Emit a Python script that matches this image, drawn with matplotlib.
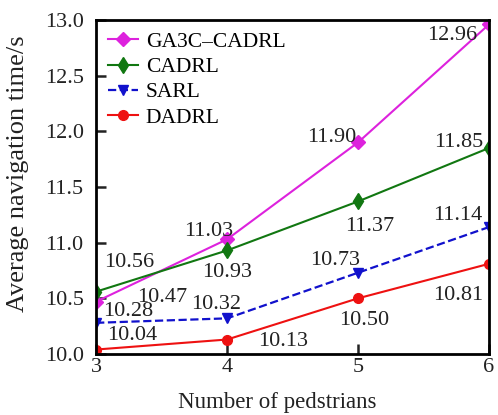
import matplotlib
matplotlib.use("Agg")
import matplotlib.pyplot as plt

plt.rcParams['font.family'] = ['Liberation Serif', 'DejaVu Serif']

pedestrians = [3, 4, 5, 6]
ga3c = [10.47, 11.03, 11.90, 12.96]
cadrl = [10.56, 10.93, 11.37, 11.85]
sarl = [10.28, 10.32, 10.73, 11.14]
dadrl = [10.04, 10.13, 10.50, 10.81]

# label offsets in pixels (dx, dy), one per point
off_ga3c = [(66, 4), (-18, 8), (-26, 5), (-37, -11)]
off_cadrl = [(33, 29), (0, -22), (12, -25), (-30, 5)]
off_sarl = [(32, 11), (-11, 14), (-23, 12), (-31, 12)]
off_dadrl = [(36, 14), (56, -2), (6, -22), (-31, -32)]

fig = plt.figure(figsize=(4.98, 4.15), dpi=100)
ax = fig.add_axes([0.193, 0.147, 0.789, 0.805])

ax.plot(pedestrians, ga3c, color='#dd22dd', marker='D', ms=7, lw=1.5, label='GA3C\u2013CADRL')
ax.plot(pedestrians, cadrl, color='#117711', marker='d', ms=8, lw=1.5, label='CADRL')
ax.plot(pedestrians, sarl, color='#1111cc', marker='v', ms=7, lw=1.6, ls='--', label='SARL')
ax.plot(pedestrians, dadrl, color='#ee1111', marker='o', ms=7, lw=1.5, label='DADRL')

for vals, offs in [(ga3c, off_ga3c), (cadrl, off_cadrl), (sarl, off_sarl), (dadrl, off_dadrl)]:
    for x, v, o in zip(pedestrians, vals, offs):
        ax.annotate('%.2f' % v, (x, v), xytext=o, textcoords='offset pixels',
                    ha='center', va='center', fontsize=16, color='#222222')

ax.set_xlim(3, 6)
ax.set_ylim(10.0, 13.0)
ax.set_xticks(pedestrians)
ax.set_yticks([10.0, 10.5, 11.0, 11.5, 12.0, 12.5, 13.0])
ax.yaxis.set_major_formatter(matplotlib.ticker.FormatStrFormatter('%.1f'))
ax.tick_params(direction='in', length=7, width=1.8, labelsize=16, colors='#222222')
ax.tick_params(axis='y', pad=9)
ax.tick_params(axis='x', pad=3)
for s in ax.spines.values():
    s.set_linewidth(2)

ax.set_xlabel('Number of pedstrians', fontsize=16.5, color='#222222', va='center')
ax.xaxis.set_label_coords(0.46, -0.144)
ax.set_ylabel('Average navigation time/s', fontsize=19, color='#222222', va='center')
ax.yaxis.set_label_coords(-0.198, 0.54)

ax.legend(loc='upper left', frameon=False, fontsize=15.5, handlelength=1.4,
          handletextpad=0.35, labelspacing=0.24, borderaxespad=0.15)

fig.savefig('out.png', dpi=100)
